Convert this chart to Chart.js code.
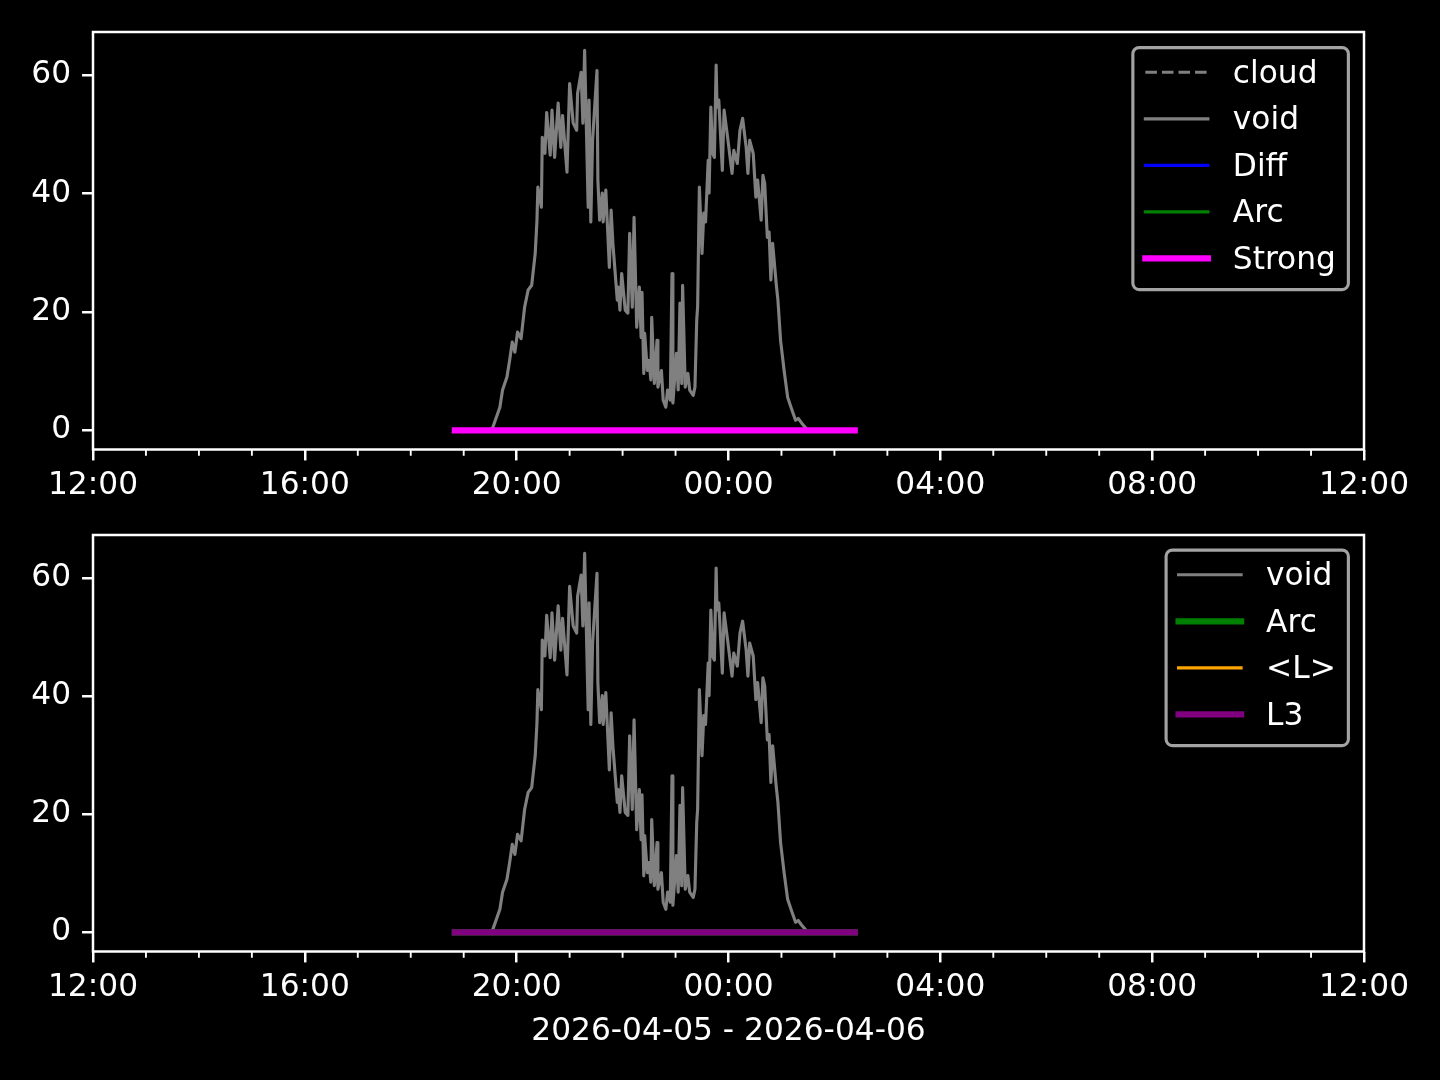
<!DOCTYPE html>
<html>
<head>
<meta charset="utf-8">
<script src="https://cdn.jsdelivr.net/npm/chart.js@4.4.1/dist/chart.umd.min.js"></script>
<style>
    html, body { margin: 0; padding: 0; background: #000; }
    #wrap { position: relative; width: 1440px; height: 1080px; background: #000; overflow: hidden; }
    canvas { position: absolute; left: 0; }
    #topChart { top: 0; }
    #bottomChart { top: 480px; }
</style>
</head>
<body>
<div id="wrap">
    <canvas id="topChart" width="1440" height="520"></canvas>
    <canvas id="bottomChart" width="1440" height="600"></canvas>
</div>
<script>
// ===== 1. DATA =====
const voidTimes = [
    '19:30', '19:33', '19:41', '19:44', '19:49', '19:52', '19:55', '19:58', '20:01', '20:05',
    '20:09', '20:13', '20:17', '20:21', '20:23', '20:24', '20:28', '20:29', '20:32', '20:34',
    '20:38', '20:40', '20:43', '20:47', '20:50', '20:52', '20:57', '21:00', '21:04', '21:08',
    '21:09', '21:13', '21:15', '21:17', '21:21', '21:22', '21:24', '21:26', '21:31', '21:32',
    '21:34', '21:37', '21:38', '21:41', '21:45', '21:47', '21:49', '21:54', '21:55', '21:57',
    '21:59', '22:03', '22:06', '22:08', '22:11', '22:13', '22:16', '22:19', '22:21', '22:22',
    '22:24', '22:25', '22:28', '22:30', '22:32', '22:33', '22:36', '22:39', '22:40', '22:44',
    '22:46', '22:49', '22:51', '22:54', '22:56', '22:57', '23:01', '23:03', '23:05', '23:07',
    '23:08', '23:11', '23:14', '23:16', '23:20', '23:22', '23:24', '23:25', '23:27', '23:30',
    '23:32', '23:34', '23:37', '23:38', '23:40', '23:42', '23:44', '23:46', '23:47', '23:49',
    '23:53', '23:55', '23:59', '00:04', '00:06', '00:10', '00:13', '00:16', '00:20', '00:22',
    '00:24', '00:28', '00:31', '00:33', '00:37', '00:39', '00:41', '00:44', '00:46', '00:48',
    '00:50', '00:54', '00:56', '00:59', '01:03', '01:07', '01:12', '01:16', '01:19', '01:23',
    '01:27'
];
const voidValues = [
    0.0, 0.5, 3.9, 6.8, 9.0, 11.8, 14.9, 13.2, 16.6, 15.5,
    20.8, 23.7, 24.5, 29.9, 35.5, 41.1, 37.7, 49.5, 46.8, 53.7,
    46.5, 54.1, 46.1, 55.3, 47.8, 53.2, 43.6, 58.6, 51.9, 50.7,
    56.9, 60.5, 51.9, 64.2, 37.7, 55.8, 35.2, 49.0, 60.8, 42.3,
    35.5, 40.1, 35.2, 40.6, 27.5, 37.2, 31.6, 22.0, 24.2, 20.3,
    26.5, 20.3, 19.8, 33.3, 20.8, 36.0, 17.4, 24.2, 15.7, 23.3,
    9.6, 16.4, 10.1, 11.8, 8.5, 19.1, 7.9, 15.2, 7.3, 10.1,
    5.1, 3.9, 6.8, 5.1, 26.5, 4.6, 13.0, 6.8, 21.5, 7.9,
    24.5, 7.3, 9.6, 6.8, 5.9, 7.3, 18.6, 20.8, 41.1, 29.9,
    36.7, 35.2, 45.6, 40.1, 54.6, 46.8, 46.1, 61.7, 54.6, 55.8,
    43.9, 54.1, 49.5, 43.4, 47.3, 45.1, 50.7, 52.7, 47.8, 43.4,
    49.0, 46.8, 39.4, 42.3, 35.5, 43.1, 41.7, 32.6, 33.5, 25.4,
    31.6, 24.8, 22.0, 15.2, 10.1, 5.6, 3.4, 1.7, 2.0, 1.2,
    0.5
];
const flatTimes = ['18:50', '02:23'];
const flatValues = [0, 0];
const cloudTimes = [];
const cloudValues = [];

const xMajorTicks = [0, 240, 480, 720, 960, 1200, 1440]; // minutes after 12:00
const yTicks = [0, 20, 40, 60];
const yRange = [-3.25, 67.3];
const xTitle = '2026-04-05 - 2026-04-06';

// ===== 2. HELPERS =====
const FS = 31.25;                 // 10pt text
const PT = FS / 10;               // one point in px
const toMin = (t) => { const [h, m] = t.split(':').map(Number); return ((h - 12 + 24) % 24) * 60 + m; };
const fmtTime = (v) => String((12 + Math.floor(v / 60)) % 24).padStart(2, '0') + ':' + String(v % 60).padStart(2, '0');
const pts = (times, vals) => times.map((t, i) => ({ x: toMin(t), y: vals[i] }));

Chart.defaults.font.family = '"DejaVu Sans", sans-serif';
Chart.defaults.font.size = FS;
Chart.defaults.color = '#ffffff';

function line(label, times, vals, color, width, dash) {
    return {
        label: label,
        data: pts(times, vals),
        borderColor: color,
        borderWidth: width,
        borderDash: dash || [],
        borderCapStyle: dash ? 'butt' : 'square',
        borderJoinStyle: 'round',
        pointRadius: 0,
        fill: false,
        tension: 0
    };
}

function roundedRect(ctx, x, y, w, h, r) {
    ctx.beginPath();
    ctx.moveTo(x + r, y);
    ctx.lineTo(x + w - r, y);
    ctx.arcTo(x + w, y, x + w, y + r, r);
    ctx.lineTo(x + w, y + h - r);
    ctx.arcTo(x + w, y + h, x + w - r, y + h, r);
    ctx.lineTo(x + r, y + h);
    ctx.arcTo(x, y + h, x, y + h - r, r);
    ctx.lineTo(x, y + r);
    ctx.arcTo(x, y, x + r, y, r);
    ctx.closePath();
}

function drawLegend(chart) {
    const { ctx, chartArea: ca } = chart;
    const sets = chart.data.datasets;
    ctx.font = FS + 'px "DejaVu Sans"';
    const textW = Math.max(...sets.map(d => ctx.measureText(d.label).width));
    const pad = 0.4 * FS, handle = 2 * FS, gap = 0.8 * FS, rowGap = 0.5 * FS, rowH = 30.9;
    const w = pad + handle + gap + textW + pad;
    const h = 2 * pad + sets.length * rowH + (sets.length - 1) * rowGap;
    const right = ca.right - 0.5 * FS, top = 47.6 + (chart.canvas.id === 'topChart' ? 0 : 502.5 - 480), left = right - w;

    roundedRect(ctx, left, top, w, h, 0.2 * FS);
    ctx.fillStyle = 'rgba(0,0,0,0.8)';
    ctx.fill();
    ctx.strokeStyle = '#a3a3a3';
    ctx.lineWidth = PT;
    ctx.stroke();

    sets.forEach((d, i) => {
        const y = top + 24.7 + i * (rowH + rowGap);
        ctx.beginPath();
        ctx.setLineDash(d.borderDash);
        ctx.lineCap = d.borderCapStyle;
        ctx.strokeStyle = d.borderColor;
        ctx.lineWidth = d.borderWidth;
        ctx.moveTo(left + pad, y);
        ctx.lineTo(left + pad + handle, y);
        ctx.stroke();
        ctx.setLineDash([]);
        ctx.fillStyle = '#ffffff';
        ctx.textAlign = 'left';
        ctx.textBaseline = 'alphabetic';
        ctx.fillText(d.label, left + pad + handle + gap, y + 10.5);
    });
}

// spines, minor ticks and the framed legend
const mplFrame = {
    id: 'mplFrame',
    afterDraw(chart) {
        const { ctx, chartArea: ca, scales } = chart;
        ctx.save();
        ctx.strokeStyle = '#ffffff';
        ctx.lineWidth = 0.8 * PT;
        ctx.strokeRect(ca.left, ca.top, ca.right - ca.left, ca.bottom - ca.top);
        ctx.lineWidth = 0.6 * PT;
        for (let m = 60; m < 1440; m += 60) {
            if (xMajorTicks.includes(m)) continue;
            const x = scales.x.getPixelForValue(m);
            ctx.beginPath();
            ctx.moveTo(x, ca.bottom);
            ctx.lineTo(x, ca.bottom + 2 * PT);
            ctx.stroke();
        }
        drawLegend(chart);
        ctx.restore();
    }
};

// ===== 3. CHART BUILDER =====
function makeChart(id, datasets, padTop, xHeight, title) {
    const grid = {
        display: true, drawOnChartArea: false, drawTicks: true,
        tickLength: 3.5 * PT, color: '#ffffff', lineWidth: 0.8 * PT
    };
    return new Chart(document.getElementById(id), {
        type: 'line',
        data: { datasets: datasets },
        options: {
            responsive: false,
            animation: false,
            events: [],
            layout: { padding: { top: padTop, right: 76, left: 0, bottom: 0 } },
            plugins: { legend: { display: false }, tooltip: { enabled: false } },
            scales: {
                x: {
                    type: 'linear', min: 0, max: 1440,
                    afterBuildTicks: s => { s.ticks = xMajorTicks.map(v => ({ value: v })); },
                    afterFit: s => { s.height = xHeight; },
                    ticks: { callback: v => fmtTime(v), maxRotation: 0, autoSkip: false, padding: 7, color: '#ffffff' },
                    grid: grid,
                    border: { display: false },
                    title: title
                        ? { display: true, text: title, color: '#ffffff', font: { size: FS }, padding: { top: 0, bottom: 29 } }
                        : { display: false }
                },
                y: {
                    min: yRange[0], max: yRange[1],
                    afterBuildTicks: s => { s.ticks = yTicks.map(v => ({ value: v })); },
                    afterFit: s => { s.width = 93; },
                    ticks: { padding: 3.5 * PT, color: '#ffffff' },
                    grid: grid,
                    border: { display: false }
                }
            }
        },
        plugins: [mplFrame]
    });
}

// draw order like matplotlib: later series on top
function stack(sets) {
    sets.forEach((d, i) => { d.order = sets.length - i; });
    return sets;
}

makeChart('topChart', stack([
    line('cloud', cloudTimes, cloudValues, '#808080', PT, [3.7 * PT, 1.6 * PT]),
    line('void', voidTimes, voidValues, '#808080', PT),
    line('Diff', flatTimes, flatValues, '#0000ff', PT),
    line('Arc', flatTimes, flatValues, '#008000', PT),
    line('Strong', flatTimes, flatValues, '#ff00ff', 2 * PT)
]), 32, 70.5, null);

makeChart('bottomChart', stack([
    line('void', voidTimes, voidValues, '#808080', PT),
    line('Arc', flatTimes, flatValues, '#008000', 2 * PT),
    line('<L>', flatTimes, flatValues, '#ffa500', PT),
    line('L3', flatTimes, flatValues, '#800080', 2 * PT)
]), 55, 128.5, xTitle);
</script>
</body>
</html>
